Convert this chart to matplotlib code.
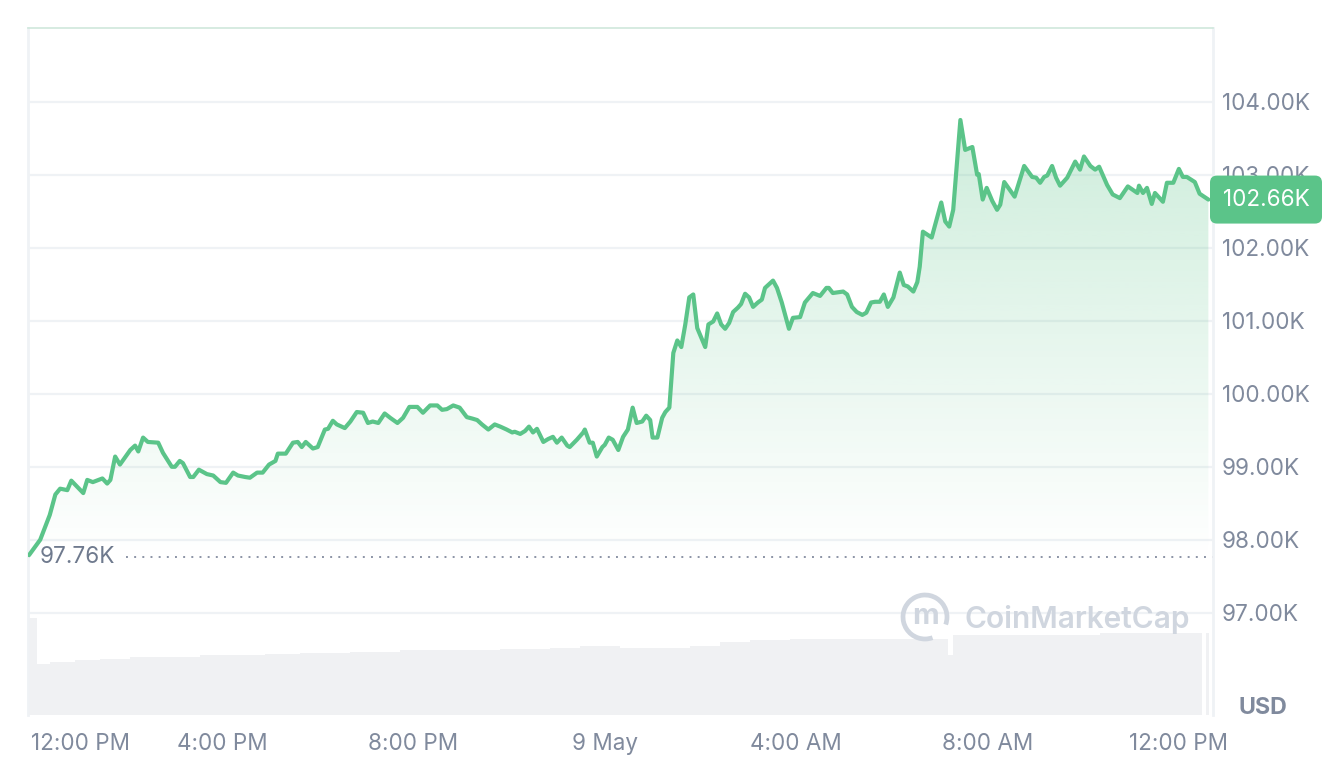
import numpy as np
import matplotlib
matplotlib.use("Agg")
import matplotlib.pyplot as plt
from matplotlib.patches import FancyBboxPatch, Polygon, Arc
from matplotlib.transforms import IdentityTransform

plt.rcParams['font.family'] = ['Inter', 'DejaVu Sans']

# ---- data: minutes after 12:00 PM, 8 May ----
minutes = [-2, 12, 24, 31, 37, 46, 51, 58, 66, 71, 78, 90, 96, 100, 106, 112, 125, 131, 135, 141,
           147, 160, 166, 177, 181, 187, 191, 200, 204, 211, 221, 229, 238, 245, 254, 260, 269, 275,
           284, 291, 299, 307, 310, 320, 329, 335, 340, 345, 354, 360, 369, 373, 379, 384, 394, 401,
           409, 417, 423, 429, 436, 444, 451, 460, 467, 475, 485, 492, 501, 510, 516, 522, 530, 538,
           547, 554, 560, 566, 574, 582, 589, 597, 604, 607, 614, 620, 625, 630, 635, 643, 649, 655,
           660, 666, 673, 676, 685, 693, 695, 701, 705, 710, 717, 720, 725, 730, 737, 743, 749, 755,
           760, 767, 772, 777, 780, 786, 792, 796, 801, 806, 811, 816, 821, 826, 831, 836, 846, 850,
           856, 861, 866, 871, 876, 881, 887, 891, 896, 901, 906, 912, 917, 921, 931, 936, 942, 951,
           956, 965, 971, 981, 990, 998, 1001, 1006, 1019, 1024, 1030, 1036, 1043, 1048, 1054, 1059,
           1065, 1070, 1075, 1082, 1090, 1095, 1100, 1107, 1112, 1115, 1119, 1130, 1142, 1147, 1152,
           1157, 1166, 1172, 1181, 1187, 1189, 1194, 1199, 1206, 1212, 1216, 1221, 1234, 1246, 1256,
           1261, 1266, 1271, 1275, 1281, 1286, 1291, 1300, 1310, 1316, 1321, 1329, 1335, 1340, 1350,
           1357, 1366, 1376, 1388, 1390, 1395, 1400, 1406, 1410, 1420, 1425, 1433, 1440, 1445, 1450,
           1460, 1466, 1477]
prices = [97.79, 98.00, 98.34, 98.62, 98.70, 98.68, 98.81, 98.73, 98.64, 98.82, 98.79, 98.84, 98.77,
          98.82, 99.14, 99.03, 99.23, 99.29, 99.21, 99.40, 99.34, 99.33, 99.19, 99.00, 99.00, 99.08,
          99.05, 98.86, 98.86, 98.96, 98.90, 98.88, 98.79, 98.78, 98.92, 98.88, 98.86, 98.85, 98.92,
          98.92, 99.03, 99.08, 99.18, 99.18, 99.33, 99.34, 99.27, 99.34, 99.25, 99.27, 99.51, 99.52,
          99.63, 99.58, 99.53, 99.62, 99.75, 99.74, 99.60, 99.62, 99.60, 99.73, 99.67, 99.60, 99.67,
          99.82, 99.82, 99.74, 99.84, 99.84, 99.78, 99.79, 99.84, 99.81, 99.68, 99.66, 99.64, 99.58,
          99.51, 99.58, 99.55, 99.51, 99.47, 99.48, 99.45, 99.49, 99.55, 99.47, 99.52, 99.34, 99.38,
          99.41, 99.33, 99.40, 99.29, 99.27, 99.37, 99.47, 99.51, 99.33, 99.33, 99.14, 99.27, 99.30,
          99.40, 99.37, 99.23, 99.41, 99.51, 99.81, 99.60, 99.62, 99.70, 99.64, 99.40, 99.40, 99.67,
          99.75, 99.81, 100.56, 100.73, 100.64, 100.95, 101.32, 101.36, 100.90, 100.64, 100.95,
          100.99, 101.10, 100.95, 100.89, 100.97, 101.12, 101.18, 101.23, 101.37, 101.32, 101.19,
          101.25, 101.29, 101.45, 101.55, 101.45, 101.25, 100.89, 101.04, 101.05, 101.25, 101.38,
          101.34, 101.45, 101.45, 101.38, 101.40, 101.36, 101.19, 101.12, 101.08, 101.11, 101.25,
          101.26, 101.26, 101.36, 101.19, 101.32, 101.66, 101.49, 101.47, 101.40, 101.53, 101.74,
          102.22, 102.14, 102.62, 102.36, 102.29, 102.52, 103.75, 103.34, 103.38, 103.00, 103.01,
          102.66, 102.82, 102.64, 102.52, 102.59, 102.90, 102.70, 103.12, 102.97, 102.96, 102.89,
          102.97, 102.99, 103.12, 102.96, 102.85, 102.96, 103.18, 103.07, 103.25, 103.12, 103.07,
          103.11, 102.86, 102.73, 102.68, 102.84, 102.75, 102.85, 102.75, 102.82, 102.60, 102.75,
          102.63, 102.89, 102.89, 103.08, 102.97, 102.97, 102.90, 102.74, 102.66]

# volume (billions USD), step values starting at given minute
vol_minutes = [-3, 8, 24, 56, 87, 125, 213, 294, 338, 401, 463, 589, 651, 689, 739, 827, 865, 902,
               952, 1150, 1157, 1341, 1469, 1474, 1478]
vol_values = [48.5, 25.5, 26.5, 27.5, 28.0, 29.0, 30.0, 30.5, 31.0, 31.5, 32.5, 33.0, 33.5, 34.5,
              33.5, 34.5, 36.5, 37.5, 38.0, 30.0, 40.0, 41.0, 0.0, 41.0, 0.0]

tick_minutes = [0, 240, 480, 720, 960, 1200, 1440]
tick_labels = ["12:00 PM", "4:00 PM", "8:00 PM", "9 May", "4:00 AM", "8:00 AM", "12:00 PM"]
y_ticks = [97, 98, 99, 100, 101, 102, 103, 104]
baseline = 97.76
last_price = 102.66

LINE = '#5bc489'
GRID = '#eff2f5'
TXT = '#808a9d'
FS = 16.2

W, H = 1340, 783
fig = plt.figure(figsize=(W / 100, H / 100), dpi=100)
fig.patch.set_facecolor('white')

L, R, T, B = 28, 1213, 28, 715
rect = [L / W, 1 - B / H, (R - L) / W, (B - T) / H]
xlim = (-3.3, 1482.8)

# volume axes (bottom strip)
axv = fig.add_axes([L / W, 1 - B / H, (R - L) / W, 100 / H], zorder=0)
axv.set_xlim(*xlim)
axv.set_ylim(0, 50)
axv.fill_between(vol_minutes, vol_values, 0, step='post', color='#f0f1f3', lw=0)
axv.axis('off')

ax = fig.add_axes(rect, zorder=1)
ax.patch.set_alpha(0)
ax.set_xlim(*xlim)
ax.set_ylim(95.60, 105.01)

# grid
for v in y_ticks:
    ax.axhline(v, color=GRID, lw=1.6, zorder=0.5)

# gradient fill under the line down to the baseline
top = max(prices)
grad = np.linspace(0, 0.30, 256)[:, None]
rgba = np.zeros((256, 1, 4))
c = matplotlib.colors.to_rgb(LINE)
rgba[..., 0], rgba[..., 1], rgba[..., 2] = c
rgba[..., 3] = grad
im = ax.imshow(rgba, extent=[xlim[0], xlim[1], baseline, top], aspect='auto',
               origin='lower', zorder=1, interpolation='bilinear')
verts = [(minutes[0], baseline)] + list(zip(minutes, prices)) + [(minutes[-1], baseline)]
poly = Polygon(verts, closed=True, facecolor='none', edgecolor='none')
ax.add_patch(poly)
im.set_clip_path(poly)

# baseline dotted line
ax.axhline(baseline, color='#8c94a6', lw=1.4, linestyle=(0, (1, 3.2)), zorder=2)
ax.text(12 / (R - L), baseline, "97.76K", transform=ax.get_yaxis_transform(),
        ha='left', va='center', color='#6f7a8e', fontsize=FS, zorder=2.5,
        bbox=dict(boxstyle='square,pad=0.2', fc='white', ec='none'))

# price line
ax.plot(minutes, prices, color=LINE, lw=3.0, solid_joinstyle='round', solid_capstyle='round', zorder=3)

# axes styling
ax.spines['bottom'].set_visible(False)
ax.spines['left'].set_color(GRID)
ax.spines['left'].set_linewidth(2)
ax.spines['right'].set_color(GRID)
ax.spines['right'].set_linewidth(2)
ax.spines['top'].set_color('#cfe8dc')
ax.spines['top'].set_linewidth(1.2)
ax.spines['top'].set_linestyle((0, (1, 1)))

ax.yaxis.tick_right()
ax.set_yticks(y_ticks)
ax.set_yticklabels([f"{v:.2f}K" for v in y_ticks])
ax.set_xticks(tick_minutes)
ax.set_xticklabels(tick_labels)
ax.xaxis.get_ticklabels()[0].set_horizontalalignment('left')
ax.tick_params(axis='y', length=0, pad=6.5, labelsize=FS, labelcolor=TXT)
ax.tick_params(axis='x', length=0, pad=13, labelsize=FS, labelcolor=TXT)

# last price badge
fig.canvas.draw()
ypix = ax.transData.transform((0, last_price))[1]
bw, bh = 112, 48
badge = FancyBboxPatch((1210, ypix - bh / 2), bw, bh, boxstyle='round,pad=0,rounding_size=7',
                       transform=IdentityTransform(), fc=LINE, ec='none', zorder=5)
fig.patches.append(badge)
fig.text((1210 + bw / 2) / W, ypix / H, f"{last_price:.2f}K", ha='center', va='center',
         color='white', fontsize=FS, zorder=6)

# USD label
fig.text(1263 / W, 1 - 708 / H, "USD", ha='center', va='center', color=TXT,
         fontsize=FS + 0.5, fontweight='bold')

# watermark
wm = '#d0d6df'
arc = Arc((925, H - 617), 44, 44, theta1=-20, theta2=290, transform=IdentityTransform(),
          color=wm, lw=3.4, zorder=4)
fig.patches.append(arc)
fig.text(925 / W, 1 - 616 / H, "m", ha='center', va='center', color=wm, fontsize=21,
         fontweight='bold', zorder=4)
fig.text(964 / W, 1 - 619 / H, "CoinMarketCap", ha='left', va='center', color=wm,
         fontsize=21.5, fontweight='semibold', zorder=4)

fig.savefig("out.png", dpi=100, facecolor='white')
